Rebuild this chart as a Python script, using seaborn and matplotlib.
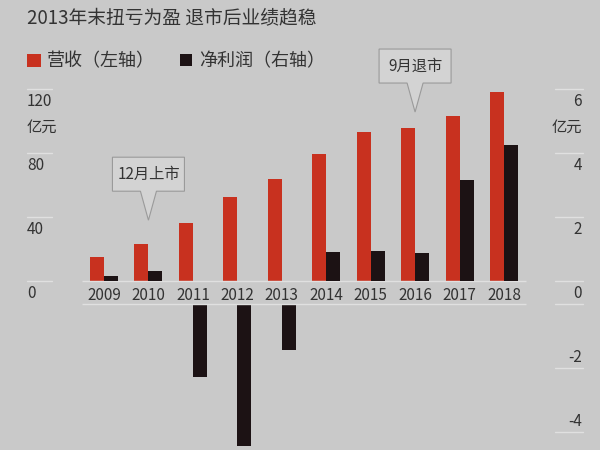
import numpy as np
import pandas as pd
import matplotlib
matplotlib.use("Agg")
import matplotlib.pyplot as plt
from matplotlib.patches import Rectangle, Polygon
from matplotlib.transforms import IdentityTransform
import seaborn as sns

# ---------------- data ----------------
years = ["2009", "2010", "2011", "2012", "2013", "2014", "2015", "2016", "2017", "2018"]
revenue = [14.8, 22.9, 36.0, 52.3, 63.5, 79.4, 93.3, 95.6, 103.3, 117.9]      # 亿元, left axis
net_profit = [0.17, 0.31, -2.28, -4.44, -1.44, 0.90, 0.93, 0.88, 3.16, 4.25]   # 亿元, right axis
left_ticks = [0, 40, 80, 120]
right_pos_ticks = [0, 2, 4, 6]
right_neg_ticks = [-2, -4]
series_names = ["营收", "净利润"]
legend_labels = ["营收（左轴）", "净利润（右轴）"]
title = "2013年末扭亏为盈 退市后业绩趋稳"
unit = "亿元"
callouts = [("2010", 38, "12月上市"), ("2016", 105.6, "9月退市")]

# ---------------- style ----------------
BG = "#c9c9c9"
RED = "#c8311f"
BLACK = "#1c1214"
TXT = "#333333"
LINE = "#e0e0e0"

sns.set_theme(style="white")
plt.rcParams["font.family"] = ["Noto Sans CJK SC", "DejaVu Sans"]
plt.rcParams["axes.unicode_minus"] = False

W, H = 600, 450
fig = plt.figure(figsize=(6, 4.5), dpi=100, facecolor=BG)

def fx(px):
    return px / W

def fy(py):
    return 1 - py / H

ax_top = fig.add_axes([fx(27), fy(281), fx(556), (281 - 73) / H])
ax_bot = fig.add_axes([fx(27), 0, fx(556), (450 - 304) / H])
for a in (ax_top, ax_bot):
    a.set_facecolor("none")

df_rev = pd.DataFrame({"year": years, "value": revenue, "series": series_names[0]})
df_np = pd.DataFrame({"year": years, "value": net_profit, "series": series_names[1]})
palette = {series_names[0]: RED, series_names[1]: BLACK}

common = dict(x="year", y="value", hue="series", hue_order=series_names, order=years,
              palette=palette, width=0.63, dodge=True, saturation=1, legend=False,
              linewidth=0, errorbar=None)

sns.barplot(data=df_rev, ax=ax_top, **common)
ax2 = ax_top.twinx()
ax2.set_facecolor("none")
sns.barplot(data=df_np, ax=ax2, **common)
sns.barplot(data=df_np, ax=ax_bot, **common)

xl = ((27 - 104) / 44.44, (583 - 104) / 44.44)
for a in (ax_top, ax2, ax_bot):
    a.set_xlim(*xl)
    a.set_xlabel("")
    a.set_ylabel("")
    for s in a.spines.values():
        s.set_visible(False)
    a.set_yticks([])
    a.tick_params(length=0)

ax_top.set_ylim(0, 130)
ax2.set_ylim(0, 6.5)
ax_bot.set_ylim(-146 / 32, 0)

# year labels between the two panels
ax_top.set_xticks(range(len(years)))
ax_top.set_xticklabels(years, fontsize=11, color=TXT)
ax_top.tick_params(axis="x", pad=4, labelbottom=True)
ax_bot.set_xticks([])

# baselines
ax_top.hlines(0, -0.5, len(years) - 0.5, color=LINE, lw=1, clip_on=False, zorder=5)
ax_bot.hlines(0, -0.5, len(years) - 0.5, color=LINE, lw=1, clip_on=False, zorder=5)

# left scale
yt = ax_top.get_yaxis_transform()
lx1 = 25 / 556
for v in left_ticks:
    ax_top.plot([0, lx1], [v, v], color=LINE, lw=1, transform=yt, clip_on=False)
    ax_top.annotate(str(v), xy=(0, v), xycoords=yt, xytext=(0, -13), textcoords="offset pixels",
                    ha="left", va="center", fontsize=11, color=TXT, annotation_clip=False)
ax_top.annotate(unit, xy=(0, left_ticks[-1]), xycoords=yt, xytext=(0, -38), textcoords="offset pixels",
                ha="left", va="center", fontsize=11, color=TXT, annotation_clip=False)

# right scale
yt2 = ax2.get_yaxis_transform()
rx0 = (555 - 27) / 556
rxl = (582 - 27) / 556
for v in right_pos_ticks:
    ax2.plot([rx0, 1], [v, v], color=LINE, lw=1, transform=yt2, clip_on=False)
    ax2.annotate(str(v), xy=(rxl, v), xycoords=yt2, xytext=(0, -13), textcoords="offset pixels",
                 ha="right", va="center", fontsize=11, color=TXT, annotation_clip=False)
ax2.annotate(unit, xy=(rxl, right_pos_ticks[-1]), xycoords=yt2, xytext=(0, -38), textcoords="offset pixels",
             ha="right", va="center", fontsize=11, color=TXT, annotation_clip=False)
ytb = ax_bot.get_yaxis_transform()
for v in [0] + right_neg_ticks:
    ax_bot.plot([rx0, 1], [v, v], color=LINE, lw=1, transform=ytb, clip_on=False)
for v in right_neg_ticks:
    ax_bot.annotate(str(v), xy=(rxl, v), xycoords=ytb, xytext=(0, 11), textcoords="offset pixels",
                    ha="right", va="center", fontsize=11, color=TXT, annotation_clip=False)

# title and legend
fig.text(fx(27), fy(19), title, ha="left", va="center", fontsize=13.5, color=TXT)
fig.add_artist(Rectangle((fx(27), fy(67)), fx(14), 13 / H, transform=fig.transFigure, color=RED, lw=0))
fig.text(fx(47), fy(61), legend_labels[0], ha="left", va="center", fontsize=13, color=TXT)
fig.add_artist(Rectangle((fx(180), fy(66)), fx(12), 12 / H, transform=fig.transFigure, color=BLACK, lw=0))
fig.text(fx(199), fy(61), legend_labels[1], ha="left", va="center", fontsize=13, color=TXT)

# callouts
for yr, yv, txt in callouts:
    xi = years.index(yr)
    tx, ty = ax_top.transData.transform((xi, yv))
    verts = [(tx, ty), (tx - 8, ty + 29), (tx - 36, ty + 29), (tx - 36, ty + 63),
             (tx + 36, ty + 63), (tx + 36, ty + 29), (tx + 8, ty + 29)]
    poly = Polygon(verts, closed=True, transform=IdentityTransform(),
                   facecolor="#d3d3d3", edgecolor="#9a9a9a", lw=0.8)
    poly.set_zorder(5)
    fig.add_artist(poly)
    t = fig.text(tx, ty + 46, txt, transform=IdentityTransform(), ha="center", va="center",
                 fontsize=11, color=TXT)
    t.set_zorder(6)

fig.savefig("out.png", dpi=100, facecolor=BG)
